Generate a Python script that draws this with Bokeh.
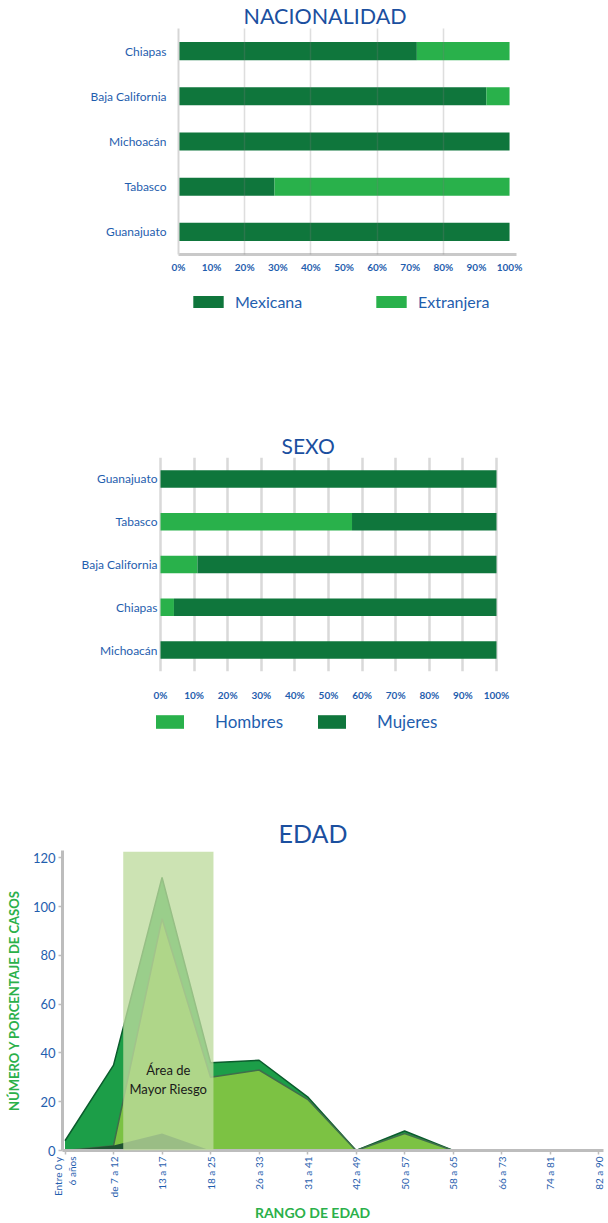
import math
from bokeh.plotting import figure
from bokeh.models import (ColumnDataSource, FactorRange, Range1d, FixedTicker,
                          Legend, LegendItem, Label, BoxAnnotation, Title)
from bokeh.embed import file_html
from bokeh.resources import INLINE

# ---------------- data ----------------
nac_states = ["Chiapas", "Baja California", "Michoacán", "Tabasco", "Guanajuato"]
nac_mexicana = [72, 93, 100, 29, 100]
nac_extranjera = [28, 7, 0, 71, 0]

sexo_states = ["Guanajuato", "Tabasco", "Baja California", "Chiapas", "Michoacán"]
sexo_hombres = [0, 57, 11, 4, 0]
sexo_mujeres = [100, 43, 89, 96, 100]

pct_ticks = [0, 10, 20, 30, 40, 50, 60, 70, 80, 90, 100]
pct_labels = ["0%", "10%", "20%", "30%", "40%", "50%", "60%", "70%", "80%", "90%", "100%"]

age_labels = ["Entre 0 y\n6 años", "de 7 a 12", "13 a 17", "18 a 25", "26 a 33", "31 a 41",
              "42 a 49", "50 a 57", "58 a 65", "66 a 73", "74 a 81", "82 a 90"]
edad_total = [4, 35, 112, 36, 37, 22, 0, 8, 0, 0, 0, 0]
edad_serie2 = [0, 2, 95, 30, 33, 21, 0, 7, 0, 0, 0, 0]
edad_serie3 = [0, 2, 7, 0, 0, 0, 0, 0, 0, 0, 0, 0]
edad_ticks = [0, 20, 40, 60, 80, 100, 120]
riesgo_desde, riesgo_hasta, riesgo_tope = 1.2, 3.06, 122.5

# ---------------- style ----------------
FONT = "Lato"
BLUE = "#1f5eae"
TITLE_BLUE = "#1b4f9f"
DARK = "#0f763c"
LIGHT = "#29b14b"
GREEN_TXT = "#2bb04a"
W = 608


def make_fig(height, x_range, y_range, ml, mr, mt, mb, **kw):
    p = figure(width=W, height=height, x_range=x_range, y_range=y_range,
               output_backend="svg", toolbar_location=None, title=None,
               min_border_left=ml, min_border_right=mr,
               min_border_top=mt, min_border_bottom=mb, **kw)
    p.outline_line_color = None
    p.border_fill_color = "white"
    p.background_fill_color = "white"
    return p


def add_title(p, text, offset, size, standoff=0):
    p.add_layout(Title(text=text, align="left", offset=offset, standoff=standoff,
                       text_font=FONT, text_font_size=size, text_font_style="normal",
                       text_color=TITLE_BLUE), "above")


def legend_fig(height, ml, mt, states, src, stackers, colors, gw, gh, standoff, lw, spacing, size):
    # separate strip holding only the legend; its bars have zero height (legend swatches only)
    pl = make_fig(height, Range1d(0, 100), FactorRange(factors=states), ml, 0, mt, 0,
                  x_axis_type=None, y_axis_type=None)
    rs = pl.hbar_stack(stackers, y="estado", height=0, source=src, color=colors, line_color=None)
    pl.add_layout(Legend(items=[LegendItem(label=l, renderers=[r]) for l, r in zip(stackers, rs)],
                         location="top_left", orientation="horizontal",
                         glyph_width=gw, glyph_height=gh, label_standoff=standoff,
                         label_width=lw, label_height=gh, spacing=spacing, padding=0, margin=0,
                         border_line_color=None, background_fill_alpha=0,
                         label_text_font=FONT, label_text_font_size=size,
                         label_text_color=BLUE))
    return pl


def style_bar_axes(p, x_standoff, y_standoff):
    p.xaxis.ticker = FixedTicker(ticks=pct_ticks)
    p.xaxis.major_label_overrides = dict(zip(pct_ticks, pct_labels))
    p.xaxis.major_tick_line_color = None
    p.xaxis.major_tick_out = 0
    p.xaxis.major_tick_in = 0
    p.xaxis.minor_tick_line_color = None
    p.xaxis.minor_tick_out = 0
    p.xaxis.major_label_standoff = x_standoff
    p.xaxis.major_label_text_font = FONT
    p.xaxis.major_label_text_font_size = "10px"
    p.xaxis.major_label_text_font_style = "bold"
    p.xaxis.major_label_text_color = BLUE
    p.yaxis.major_tick_line_color = None
    p.yaxis.major_tick_out = 0
    p.yaxis.major_tick_in = 0
    p.yaxis.major_label_standoff = y_standoff
    p.yaxis.major_label_text_font = FONT
    p.yaxis.major_label_text_font_size = "12px"
    p.yaxis.major_label_text_color = BLUE
    p.ygrid.grid_line_color = None


# ================= NACIONALIDAD =================
H1, MT1, FH1, ML1, FW1 = 280, 27, 227, 178, 338
p1 = make_fig(H1, Range1d(0, 102.1), FactorRange(factors=list(reversed(nac_states))),
              ML1, W - ML1 - FW1, MT1, H1 - MT1 - FH1)
src1 = ColumnDataSource(dict(estado=nac_states, Mexicana=nac_mexicana, Extranjera=nac_extranjera))
p1.hbar_stack(["Mexicana", "Extranjera"], y="estado", height=0.4, source=src1,
              color=[DARK, LIGHT], line_color=None)
p1.xgrid.ticker = FixedTicker(ticks=pct_ticks[0:9:2])
p1.xgrid.grid_line_color = "#7a7a7a"
p1.xgrid.grid_line_alpha = 0.25
p1.xgrid.grid_line_width = 1.5
p1.xgrid.level = "overlay"
style_bar_axes(p1, 6, 12)
p1.xaxis.axis_line_color = "#c9c9c9"
p1.xaxis.axis_line_width = 3
p1.yaxis.axis_line_color = "#d6d6d6"
p1.yaxis.axis_line_width = 2
add_title(p1, "NACIONALIDAD", 65, "21.5px")

p1l = legend_fig(60, 189, 12, nac_states, src1, ["Mexicana", "Extranjera"], [DARK, LIGHT],
                 38, 15, 8, 130, 7, "16px")

# ================= SEXO =================
H2, MT2, FH2, ML2, FW2 = 363, 117, 218, 158, 340
p2 = make_fig(H2, Range1d(-0.6, 100.6), FactorRange(factors=list(reversed(sexo_states))),
              ML2, W - ML2 - FW2, MT2, H2 - MT2 - FH2)
src2 = ColumnDataSource(dict(estado=sexo_states, Hombres=sexo_hombres, Mujeres=sexo_mujeres))
p2.hbar_stack(["Hombres", "Mujeres"], y="estado", height=0.41, source=src2,
              color=[LIGHT, DARK], line_color=None)
p2.xgrid.ticker = FixedTicker(ticks=pct_ticks)
p2.xgrid.grid_line_color = "#d9d9d9"
p2.xgrid.grid_line_width = 2.5
style_bar_axes(p2, 17, 1)
p2.xaxis.axis_line_color = None
p2.yaxis.axis_line_color = None
add_title(p2, "SEXO", 123, "21px")

p2l = legend_fig(45, 152, 8, sexo_states, src2, ["Hombres", "Mujeres"], [LIGHT, DARK],
                 35, 17, 28, 95, 4, "17px")

# ================= EDAD =================
H3, MT3, FH3, ML3, FW3 = 452, 102, 303, 62, 541
xs = list(range(len(age_labels)))
p3 = make_fig(H3, Range1d(-0.052, 11.1), Range1d(0, 123),
              ML3, W - ML3 - FW3, MT3, H3 - MT3 - FH3)
p3.varea(x=xs, y1=0, y2=edad_total, fill_color="#1c9e48")
p3.line(xs, edad_total, line_color="#0b5c2d", line_width=1.5)
p3.varea(x=xs, y1=0, y2=edad_serie2, fill_color="#7cc243")
p3.line(xs, edad_serie2, line_color="#3f6e4b", line_width=1.5)
p3.varea(x=xs, y1=0, y2=edad_serie3, fill_color="#1f5331")
p3.add_layout(BoxAnnotation(left=riesgo_desde, right=riesgo_hasta, bottom=0, top=riesgo_tope,
                            fill_color="#bedb9e", fill_alpha=0.78, line_color=None))
p3.add_layout(Label(x=(riesgo_desde + riesgo_hasta) / 2, y=29, text="Área de\nMayor Riesgo",
                    text_align="center", text_baseline="middle", text_font=FONT,
                    text_font_size="13px", text_color="#1a1a1a"))
p3.xgrid.grid_line_color = None
p3.ygrid.grid_line_color = None
p3.xaxis.ticker = FixedTicker(ticks=xs)
p3.xaxis.major_label_overrides = dict(zip(xs, age_labels))
p3.xaxis.major_label_orientation = math.pi / 2
p3.xaxis.axis_line_color = "#bdbdbd"
p3.xaxis.axis_line_width = 3
p3.xaxis.major_tick_line_color = "#bdbdbd"
p3.xaxis.major_tick_line_width = 1.5
p3.xaxis.major_tick_out = 4
p3.xaxis.major_tick_in = 0
p3.xaxis.minor_tick_line_color = None
p3.xaxis.major_label_standoff = 2
p3.xaxis.major_label_text_font = FONT
p3.xaxis.major_label_text_font_size = "10px"
p3.xaxis.major_label_text_color = BLUE
p3.yaxis.ticker = FixedTicker(ticks=edad_ticks)
p3.yaxis.axis_line_color = "#bdbdbd"
p3.yaxis.axis_line_width = 3
p3.yaxis.major_tick_line_color = "#bdbdbd"
p3.yaxis.major_tick_line_width = 1.5
p3.yaxis.major_tick_out = 4
p3.yaxis.major_tick_in = 0
p3.yaxis.minor_tick_line_color = None
p3.yaxis.major_label_standoff = 3
p3.yaxis.major_label_text_font = FONT
p3.yaxis.major_label_text_font_size = "13px"
p3.yaxis.major_label_text_color = BLUE
p3.yaxis.axis_label = "NÚMERO Y PORCENTAJE DE CASOS"
p3.yaxis.axis_label_standoff = 8
p3.yaxis.axis_label_text_font = FONT
p3.yaxis.axis_label_text_font_size = "13px"
p3.yaxis.axis_label_text_font_style = "bold"
p3.yaxis.axis_label_text_color = GREEN_TXT
add_title(p3, "EDAD", 216, "25px", standoff=5)

H3L = 1223 - H1 - 60 - H2 - 45 - H3
p3l = make_fig(H3L, Range1d(0, 1), Range1d(0, 1), 0, 0, 0, 0,
               x_axis_type=None, y_axis_type=None)
p3l.add_layout(Label(x=312, y=H3L / 2, x_units="screen", y_units="screen", text="RANGO DE EDAD",
                     text_align="center", text_baseline="middle", text_font=FONT,
                     text_font_size="14px", text_font_style="bold", text_color=GREEN_TXT))

open("out.html", "w").write(file_html([p1, p1l, p2, p2l, p3, p3l], INLINE))
